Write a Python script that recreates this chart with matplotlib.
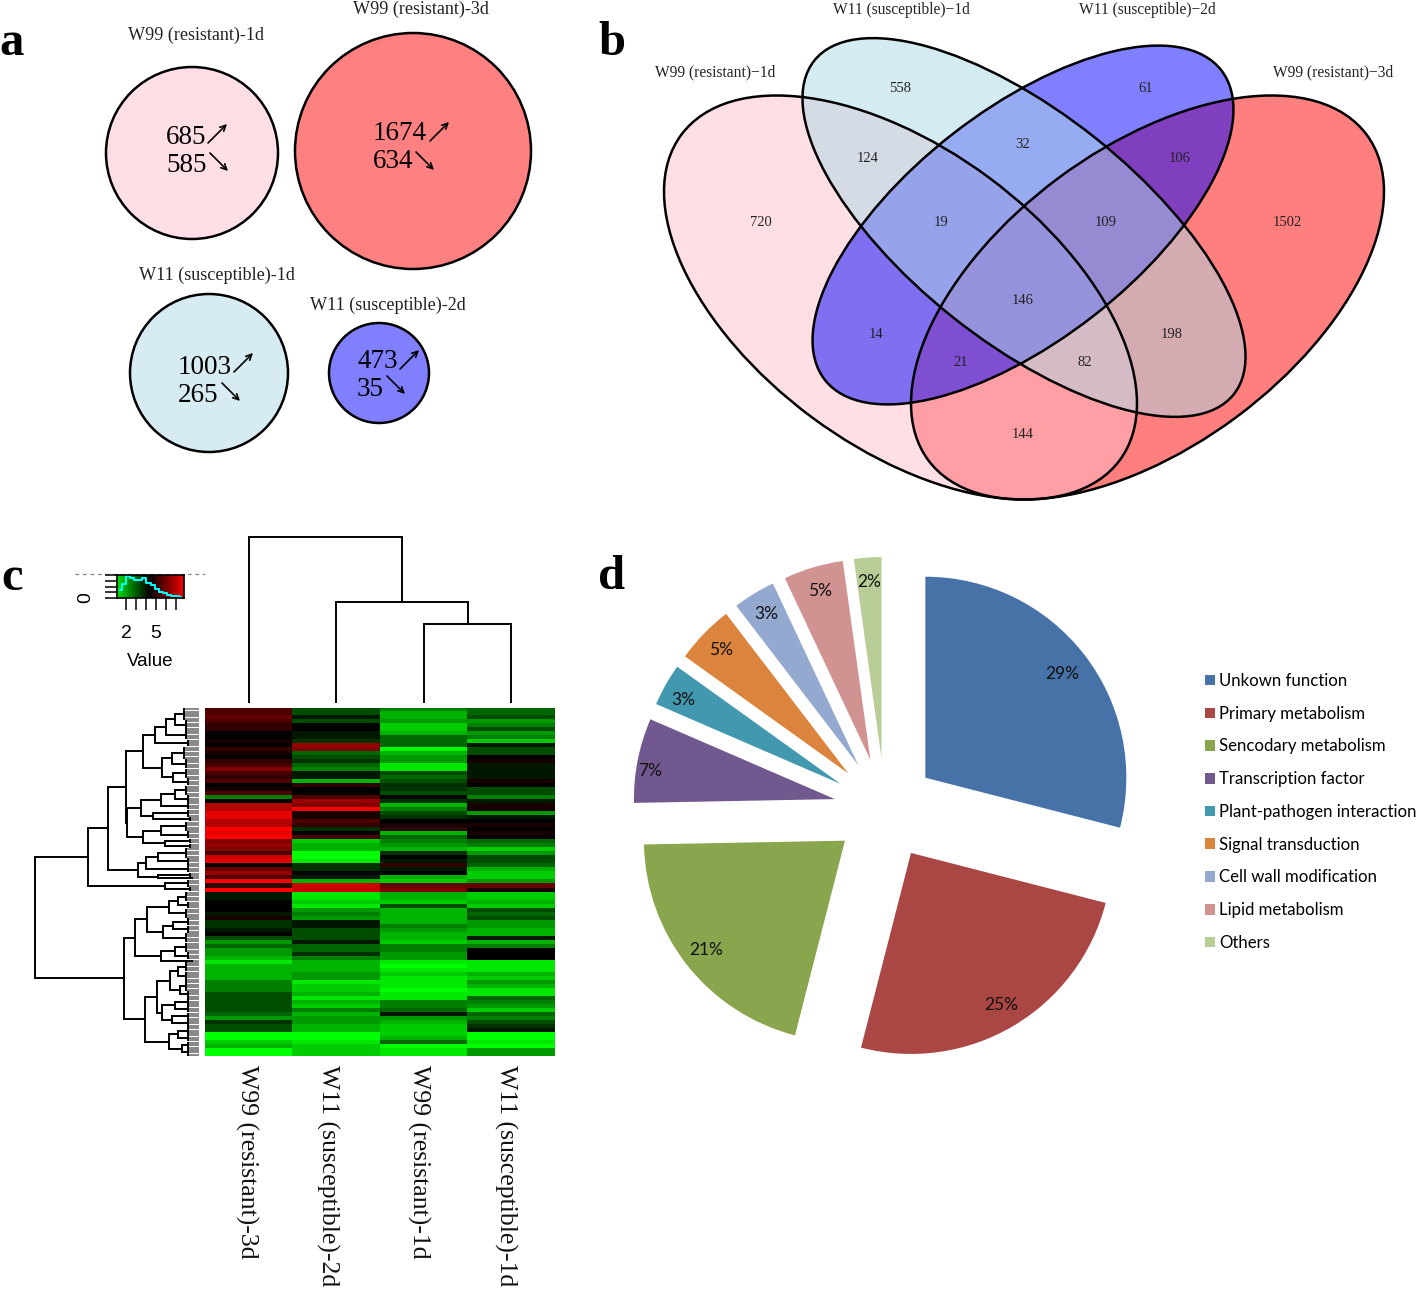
#!/usr/bin/env python3
"""Four panel DEG figure: size circles, venn, heatmap and function pie."""

import matplotlib
matplotlib.use('Agg')
import matplotlib.pyplot as plt
from matplotlib.colors import LinearSegmentedColormap
from matplotlib.patches import Circle, Ellipse
import numpy as np

W, H = 1418, 1289
SERIF = 'Liberation Serif'

# panel a
circle_labels = ['W99 (resistant)-1d', 'W99 (resistant)-3d',
                 'W11 (susceptible)-1d', 'W11 (susceptible)-2d']
up_counts = [685, 1674, 1003, 473]
down_counts = [585, 634, 265, 35]

# panel b
venn_labels = ['W99 (resistant)\u22121d', 'W11 (susceptible)\u22121d',
               'W11 (susceptible)\u22122d', 'W99 (resistant)\u22123d']
venn_counts = [720, 558, 61, 1502, 124, 32, 106, 19, 109, 146, 14, 21, 82, 198, 144]

# panel c, -10 is full green and 10 full red
heat_columns = ['W99 (resistant)-3d', 'W11 (susceptible)-2d',
                'W99 (resistant)-1d', 'W11 (susceptible)-1d']
w99_3d = [3, 3, 4, 3, 2, 2, 0, 0, 1, 0, 2, 1, 0, 2, 3, 5, 3, 2, 3, 0, 1, 3, -5, 0, 7, 7, 9, 9, 7, 7,
          10, 9, 10, 5, 6, 5, 3, 8, 9, 0, 4, 6, 3, 10,
          2, 10, -1, -1, 0, 0, 0, -1, 1, -2, -2, -1, 0, -3, -6, -4, -6, -6, -7, -9,
          -7, -7, -7, -7, -5, -5, -5, -3, -3, -3, -3, -3, -4, -6, -2, -3, -3, -10, -10, -8, -7, -10, -10]
w11_2d = [-3, -3, -1, -3, 0, 0, -1, -1, -2, 6, 5, -4, -3, -2, -4, -5, -1, -1, -7, 2, 0, 0, 3, 6, 5, 10, 1, 1, 3, 2,
          -2, 0, 3, -8, -7, -7, -10, -10, -9, -2, -2, 0, -1, -7,
          8, 8, -9, -9, -8, -9, -6, -5, -6, -1, -1, -3, -3, -3, -1, -4, -4, -2, -5, -7,
          -7, -7, -6, -6, -9, -8, -8, -7, -9, -7, -8, -5, -7, -6, -6, -7, -7, -10, -10, -9, -8, -8, -8]
w99_1d = [-5, -7, -7, -6, -8, -8, -7, -4, -4, -4, -10, -7, -6, -6, -9, -9, -3, -4, -3, -2, -2, -3, 0, -2, -7, -5, -3, -2, 0, 1,
          2, -7, -4, -5, -6, -7, -2, 0, -1, 2, -1, 0, -7, -8,
          4, 5, -7, -7, -8, -3, -7, -7, -7, -7, -5, -6, -7, -7, -8, -5, -5, -6, -6, -9,
          -10, -9, -8, -9, -9, -9, -10, -9, -9, -5, -5, -4, -1, -6, -7, -8, -8, -8, -7, -4, -10, -9, -9]
w11_1d = [-4, -4, -3, -6, -5, -3, -6, -5, -8, -1, -3, -3, 0, 1, -1, -1, -1, -1, 1, 0, -3, -3, -5, -1, 1, 1, -6, -1, 0, 1,
          0, 1, 0, -4, -5, -8, -6, -3, -3, -4, -7, -8, -8, -6,
          4, 1, -8, -8, -7, -8, -3, -4, -3, -6, -6, -7, -7, -1, -7, -5, 0, 0, 0, -9,
          -9, -9, -7, -8, -6, -7, -9, -9, -4, -5, -6, -8, -4, -5, -3, -2, -1, -10, -10, -9, -10, -6, -6]

# merge heights, an int is a bundle of that many leaves
row_tree = (477,
            (322,
             (265,
              (213,
               (163,
                (128, (95, (70, 5, 4), 4), 3),
                (107, (80, 5, 4), (75, 4, 3))),
               (210,
                (168, (110, (70, 4, 3), 3), (135, 3, 2)),
                (162, (110, 4, 3), (100, 2, 2)))),
              (178, (155, (118, 4, 3), 3), (120, 2, 1))),
             (100, 3, 2)),
            (217,
             (187,
              (150, (88, (60, 4, 3), 4), (105, (75, 3, 3), 4)),
              (112, (70, 4, 3), 1)),
             (158,
              (122, (85, (60, 4, 4), (55, 4, 3)), (108, (70, 3, 3), (78, 3, 3))),
              (87, (60, 3, 3), (50, 3, 3)))))
col_tree = (166, 0, (101, 1, (79, 2, 3)))

key_ticks = [2, 3, 4, 5, 6, 7]
key_tick_labels = ['2', '', '', '5', '', '']
key_hist = [35, 60, 95, 85, 80, 80, 85, 65, 55, 38, 25, 20, 15, 10, 7, 3]

# panel d
pie_labels = ['Unkown function', 'Primary metabolism', 'Sencodary metabolism',
              'Transcription factor', 'Plant-pathogen interaction', 'Signal transduction',
              'Cell wall modification', 'Lipid metabolism', 'Others']
pie_values = [29, 25, 20.7, 6.8, 3.4, 4.7, 3.4, 4.8, 2.2]
pie_colors = ['#4672A8', '#AA4643', '#89A54E', '#71588F', '#4198AF',
              '#DB843D', '#93A9CF', '#D19392', '#B9CD96']


def px_axes(fig, x0, y0, x1, y1):
    """Axes placed by reference pixels, y counted from the top."""
    return fig.add_axes([x0 / W, 1 - y1 / H, (x1 - x0) / W, (y1 - y0) / H])


def draw_node(ax, node, next_leaf):
    """Draw a tree node, return (height, position, next free leaf)."""
    if isinstance(node, int):
        # bundle of leaves hanging off one small comb
        pos = []
        top = 14 + 6 * node
        for i in range(node):
            pos.append(next_leaf + i)
            ax.plot([0, top], [next_leaf + i] * 2, color='#666666', lw=1.1)
        ax.plot([top, top], [pos[0], pos[-1]], color='k', lw=1.4)
        return top, (pos[0] + pos[-1]) / 2, next_leaf + node
    h, a, b = node
    ha, pa, next_leaf = draw_node(ax, a, next_leaf)
    hb, pb, next_leaf = draw_node(ax, b, next_leaf)
    ax.plot([ha, h, h, hb], [pa, pa, pb, pb], color='k', lw=1.4, solid_joinstyle='miter')
    return h, (pa + pb) / 2, next_leaf


def draw_col_node(ax, node):
    if isinstance(node, int):
        return 0, node
    h, a, b = node
    ha, xa = draw_col_node(ax, a)
    hb, xb = draw_col_node(ax, b)
    ax.plot([xa, xa, xb, xb], [ha, h, h, hb], color='k', lw=1.4, solid_joinstyle='miter')
    return h, (xa + xb) / 2


fig = plt.figure(figsize=(W / 100, H / 100), dpi=100, facecolor='white')

# pixel overlay for panels a and b plus the panel letters
ax = fig.add_axes([0, 0, 1, 1])
ax.set_xlim(0, W)
ax.set_ylim(H, 0)
ax.axis('off')

for letter, x, y in [('a', 12, 43), ('b', 612, 43), ('c', 12, 578), ('d', 612, 577)]:
    ax.text(x, y, letter, family=SERIF, fontsize=35, fontweight='bold', ha='center', va='center')

# panel a
a_colors = ['#FFDFE5', '#FF8080', '#D6EBF2', '#8080FF']
a_centers = [(192, 153), (413, 151), (209, 373), (379, 373)]
a_radii = [86, 118, 79, 50]
a_label_pos = [(196, 35), (421, 9), (217, 275), (388, 305)]
a_text_left = [166, 373, 178, 357]
a_up_y = [137, 134, 367, 361]
a_down_y = [165, 162, 396, 389]
a_up_arrow = [(208, 143), (430, 141), (234, 372), (400, 369)]
a_down_arrow = [(210, 153), (416, 152), (222, 383), (387, 376)]
for i in range(4):
    ax.add_patch(Circle(a_centers[i], a_radii[i], fc=a_colors[i], ec='k', lw=1.8))
    ax.text(*a_label_pos[i], circle_labels[i], family=SERIF, fontsize=13.1, ha='center', va='center', color='#222222')
    ax.text(a_text_left[i], a_up_y[i], str(up_counts[i]), family=SERIF, fontsize=19.5, va='center')
    ax.text(a_text_left[i], a_down_y[i], str(down_counts[i]), family=SERIF, fontsize=19.5, va='center')
    ux, uy = a_up_arrow[i]
    ax.annotate('', xy=(ux + 19, uy - 19), xytext=(ux, uy),
                arrowprops=dict(arrowstyle='->', lw=1.2, color='k', shrinkA=0, shrinkB=0))
    dx, dy = a_down_arrow[i]
    ax.annotate('', xy=(dx + 18, dy + 18), xytext=(dx, dy),
                arrowprops=dict(arrowstyle='->', lw=1.2, color='k', shrinkA=0, shrinkB=0))

# panel b, red goes under pink, then blue and light blue on top
venn_order = [
    ((1147.5, 297.5), 546, 298, -36.6, '#FF0000'),
    ((900.5, 297.5), 546, 298, 36.6, '#FFC0CB'),
    ((1023, 225), 503, 230, -38, '#0000FF'),
    ((1024, 227.5), 536, 229, 38.5, '#ADD8E6'),
]
for xy, w, h, ang, col in venn_order:
    ax.add_patch(Ellipse(xy, w, h, angle=ang, fc=col, alpha=0.5, ec='none'))
for xy, w, h, ang, col in venn_order:
    ax.add_patch(Ellipse(xy, w, h, angle=ang, fc='none', ec='k', lw=1.8))

venn_pos = [(761, 221), (900, 87), (1146, 87), (1287, 221), (868, 157), (1023, 143), (1180, 157),
            (941, 221), (1106, 221), (1023, 299), (876, 334), (961, 362), (1085, 362), (1172, 334), (1023, 433)]
for (x, y), n in zip(venn_pos, venn_counts):
    ax.text(x, y + 1, str(n), family=SERIF, fontsize=10.5, ha='center', va='center', color='#222222')
venn_label_pos = [(715, 72), (901, 10), (1147, 10), (1333, 72)]
for (x, y), name in zip(venn_label_pos, venn_labels):
    ax.text(x, y, name, family=SERIF, fontsize=11.2, ha='center', va='center', color='#222222')

# panel c heatmap
heat = np.array([w99_3d, w11_2d, w99_1d, w11_1d]).T
gbr = LinearSegmentedColormap.from_list('gbr', ['#00FF00', '#000000', '#FF0000'])
ax_heat = px_axes(fig, 205, 708, 555, 1056)
ax_heat.imshow(heat, aspect='auto', cmap=gbr, vmin=-10, vmax=10, interpolation='nearest')
ax_heat.axis('off')
label_shift = [-0.03, -0.1, -0.06, -0.07]
for i, name in enumerate(heat_columns):
    ax_heat.text(i + label_shift[i], -0.025, name, transform=ax_heat.get_xaxis_transform(), family=SERIF,
                 fontsize=18.5, rotation=-90, ha='center', va='top', color='#111111')

# row dendrogram, x counts away from the heatmap
ax_row = px_axes(fig, 20, 708, 199, 1056)
n_leaves = draw_node(ax_row, row_tree, 0)[2]
ax_row.set_xlim(521, 0)
ax_row.set_ylim(n_leaves - 0.5, -0.5)
ax_row.axis('off')

# column dendrogram
ax_col = px_axes(fig, 205, 530, 555, 703)
draw_col_node(ax_col, col_tree)
ax_col.set_xlim(-0.5, 3.5)
ax_col.set_ylim(0, 173)
ax_col.axis('off')

# colour key
ax_key = px_axes(fig, 117, 575, 184, 598)
ax_key.imshow(np.linspace(0.08, 0.95, 24).reshape(1, -1), aspect='auto', cmap=gbr, vmin=0, vmax=1,
              extent=(1.1, 7.8, 0, 100))
ax_key.step(np.linspace(1.4, 7.5, len(key_hist)), key_hist, color='cyan', lw=1.5, where='mid')
ax_key.set_xticks(key_ticks)
ax_key.set_xticklabels(key_tick_labels, family='Liberation Sans', fontsize=14)
ax_key.set_yticks([0, 25, 50, 75, 100])
ax_key.set_yticklabels(['0', '', '', '', ''], family='Liberation Sans', fontsize=14, rotation=90, va='center')
ax_key.tick_params(length=8.5, width=1.1, pad=8)
ax_key.tick_params(axis='x', pad=11)
for s in ax_key.spines.values():
    s.set_linewidth(1.2)
ax_key.set_xlabel('Value', family='Liberation Sans', fontsize=13.5, labelpad=8)
ax.plot([75, 205], [574, 574], color='#888888', lw=0.9, ls=(0, (3, 3)))

# panel d pie
ax_pie = px_axes(fig, 585, 510, 1185, 1110)
wedges, _, autotexts = ax_pie.pie(pie_values, colors=pie_colors, explode=[0.254] * len(pie_values),
                                  startangle=90, counterclock=False, radius=1, autopct='%.0f%%',
                                  pctdistance=0.88, textprops=dict(family='Lato', fontsize=12.5, color='#111111'))
# two percentages sit off their default spot in the reference
for idx, dx, dy in [(0, -3, -5), (3, -11, -6), (4, -3, -3)]:
    px, py = autotexts[idx].get_position()
    autotexts[idx].set_position((px + dx / 201, py + dy / 201))
ax_pie.set_xlim((585 - 885) / 201, (1185 - 885) / 201)
ax_pie.set_ylim((809 - 1110) / 201, (809 - 510) / 201)
fig.legend(wedges, pie_labels, loc='upper left', bbox_to_anchor=(1205 / W, 1 - 673 / H), frameon=False,
           prop=dict(family='Lato', size=12.05), labelspacing=1.0, handlelength=0.6, handleheight=0.6,
           handletextpad=0.26, borderpad=0, borderaxespad=0)

fig.savefig('out.png', dpi=100)
